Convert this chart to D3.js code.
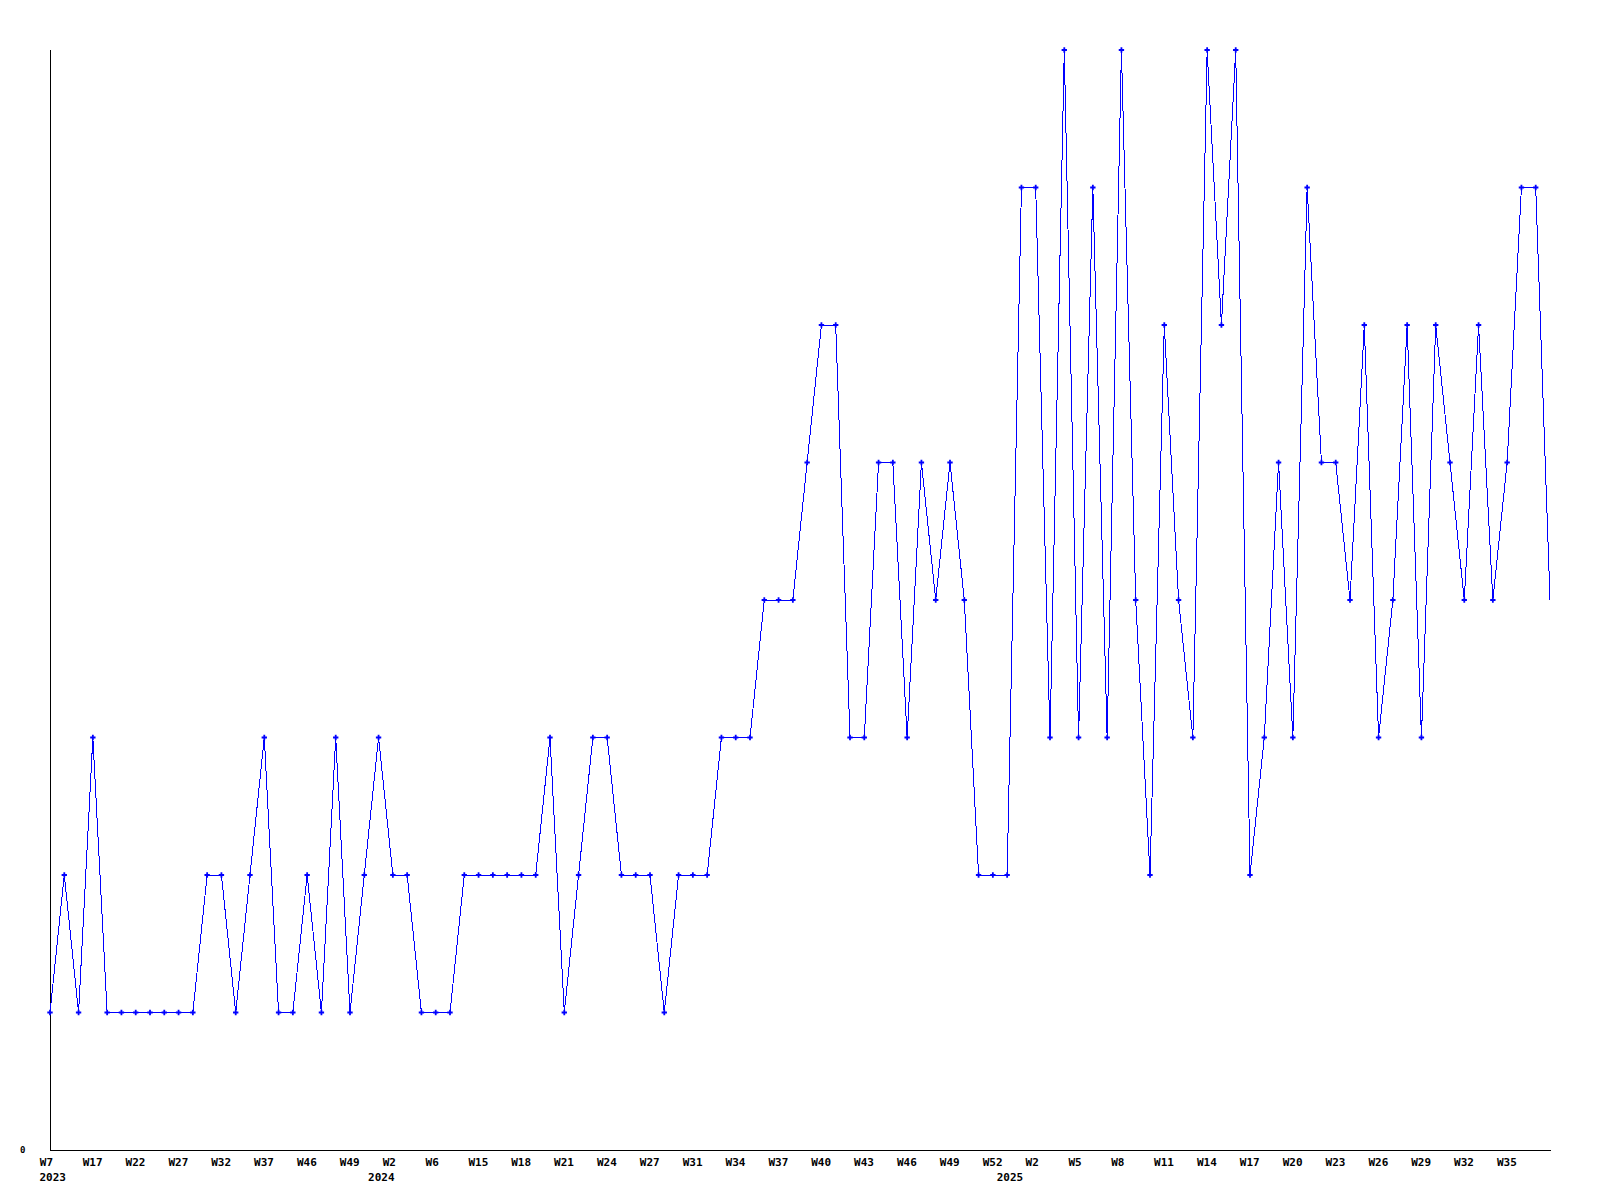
<!DOCTYPE html>
<html>
<head>
<meta charset="utf-8">
<script src="https://cdn.jsdelivr.net/npm/d3@7/dist/d3.min.js"></script>
<style>
    body { margin: 0; background: #fff; }
    text { font-family: "DejaVu Sans Mono", monospace; font-weight: bold; font-size: 11px; fill: #000; }
</style>
</head>
<body>
<svg id="chart" width="1600" height="1200"></svg>
<script>
// weekly counts, one per point
const values = [
    1, 2, 1, 3, 1, 1, 1, 1, 1, 1, 1, 2, 2, 1, 2, 3, 1, 1, 2, 1,
    3, 1, 2, 3, 2, 2, 1, 1, 1, 2, 2, 2, 2, 2, 2, 3, 1, 2, 3, 3,
    2, 2, 2, 1, 2, 2, 2, 3, 3, 3, 4, 4, 4, 5, 6, 6, 3, 3, 5, 5,
    3, 5, 4, 5, 4, 2, 2, 2, 7, 7, 3, 8, 3, 7, 3, 8, 4, 2, 6, 4,
    3, 8, 6, 8, 2, 3, 5, 3, 7, 5, 5, 4, 6, 3, 4, 6, 3, 6, 5, 4,
    6, 4, 5, 7, 7, 4
];

// week tick labels, shown on every third point
const weekLabels = [
    "W7", "W17", "W22", "W27", "W32", "W37", "W46", "W49", "W2", "W6",
    "W15", "W18", "W21", "W24", "W27", "W31", "W34", "W37", "W40", "W43",
    "W46", "W49", "W52", "W2", "W5", "W8", "W11", "W14", "W17", "W20",
    "W23", "W26", "W29", "W32", "W35"
];

// year labels and the point where each year begins
const yearLabels = ["2023", "2024", "2025"];
const yearStarts = [0, 23, 67];

const yTicks = [0];

let margin = {top: 50, right: 50, bottom: 50, left: 50},
    width = 1600,
    height = 1200;

let svg = d3.select("#chart");

let x = d3.scalePoint()
    .domain(d3.range(values.length))
    .range([margin.left, width - margin.right]);

let y = d3.scaleLinear()
    .domain([0, 8])
    .range([height - margin.bottom, margin.top]);

// axes
let xAxis = d3.axisBottom(x)
    .tickValues(d3.range(0, values.length, 3))
    .tickFormat((d, i) => weekLabels[i])
    .tickSize(0)
    .tickPadding(0);

let gx = svg.append("g")
    .attr("transform", `translate(0,${y(0)})`)
    .call(xAxis);
gx.select(".domain").attr("stroke", "#000").attr("d", `M${x(0)},0.5H${x(values.length - 1) + 1}`);
gx.selectAll("text")
    .attr("font-size", null).attr("font-family", null)
    .attr("text-anchor", "start")
    .attr("x", -10.7)
    .attr("y", 16)
    .attr("dy", null);

let years = svg.append("g")
    .attr("transform", `translate(0,${y(0)})`)
    .selectAll("text")
    .data(yearStarts)
    .enter().append("text")
    .attr("x", d => x(d) - 10.5)
    .attr("y", 31)
    .text((d, i) => yearLabels[i]);

let gy = svg.append("g")
    .attr("transform", `translate(${x(0)},0)`)
    .call(d3.axisLeft(y).tickValues(yTicks).tickSize(0).tickSizeOuter(0));
gy.select(".domain").attr("stroke", "#000").attr("d", `M0.5,${y(8)}V${y(0)}`);
gy.selectAll("text")
    .attr("font-size", null).attr("font-family", null)
    .style("font-size", "9px")
    .attr("text-anchor", "start")
    .attr("x", -30)
    .attr("dy", "0.3em");

// the line
let line = d3.line()
    .x((d, i) => x(i))
    .y(d => y(d));

svg.append("path")
    .datum(values)
    .attr("fill", "none")
    .attr("stroke", "#0000ff")
    .attr("stroke-width", 1)
    .attr("shape-rendering", "crispEdges")
    .attr("d", line);

// point markers (the last point has none)
svg.append("g")
    .selectAll("path")
    .data(values.slice(0, -1))
    .enter().append("path")
    .attr("transform", (d, i) => `translate(${x(i)},${y(d)})`)
    .attr("fill", "#0000ff")
    .attr("d", d3.symbol(d3.symbolCross, 16));
</script>
</body>
</html>
